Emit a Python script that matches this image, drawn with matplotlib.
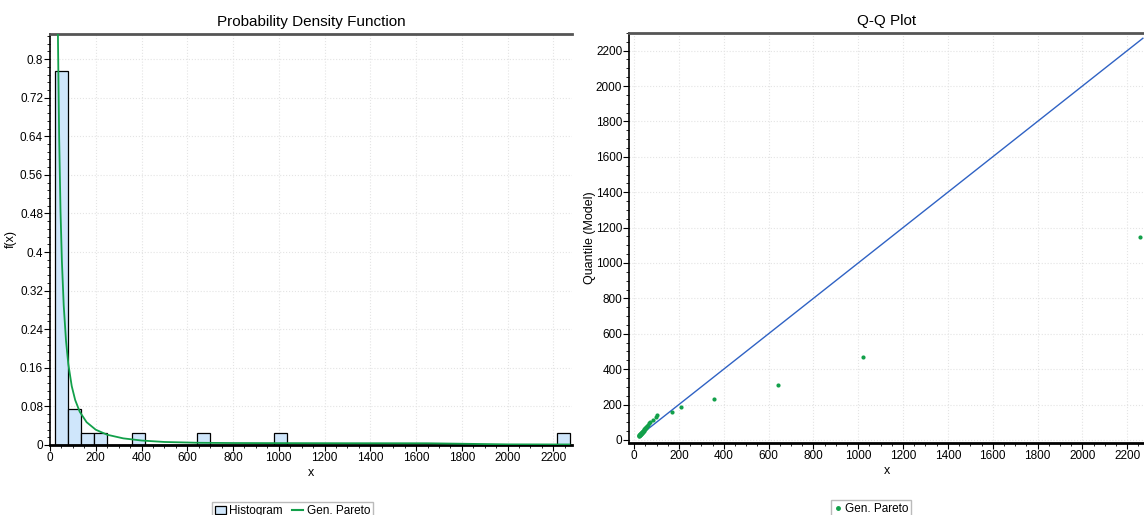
import numpy as np
import matplotlib
matplotlib.use("Agg")
import matplotlib.pyplot as plt
from matplotlib.ticker import MultipleLocator, AutoMinorLocator, FormatStrFormatter
from matplotlib.patches import Patch
from matplotlib.lines import Line2D

plt.rcParams['font.family'] = ['Liberation Sans Narrow', 'Liberation Sans', 'DejaVu Sans']

# histogram (relative frequency per bin)
bin_start = 23.0
bin_width = 56.2
hist_freq = [0.775, 0.075, 0.025, 0.025, 0, 0, 0.025, 0, 0, 0,
             0, 0.025, 0, 0, 0, 0, 0, 0.025, 0, 0,
             0, 0, 0, 0, 0, 0, 0, 0, 0, 0,
             0, 0, 0, 0, 0, 0, 0, 0, 0, 0.025]

# fitted Gen. Pareto curve
pdf_x = [22, 25, 28, 31, 35, 40, 46, 52, 60, 70, 80, 95, 110, 130, 160,
         200, 250, 320, 400, 500, 650, 800, 1000, 1300, 1650, 2000, 2270]
pdf_y = [2.26, 1.70, 1.33, 1.07, 0.835, 0.638, 0.484, 0.381, 0.289, 0.216,
         0.168, 0.122, 0.0933, 0.0688, 0.0472, 0.0316, 0.0212, 0.0137,
         0.0092, 0.0062, 0.0045, 0.0040, 0.0038, 0.0036, 0.0035, 0.0012, 0.0010]

# Q-Q plot: observed x vs model quantile
qq_x = [20, 21, 22, 23, 24, 25, 26, 27, 28, 29, 30, 31, 32, 33, 34, 35, 36,
        38, 39, 40, 42, 43, 45, 47, 49, 51, 54, 57, 61, 65, 70,
        86, 99, 101, 168, 209, 358, 640, 1020, 2258]
qq_y = [22, 24, 25, 27, 28, 29, 30, 32, 33, 34, 35, 37, 38, 40, 41, 43, 45,
        47, 49, 51, 53, 56, 59, 62, 66, 70, 75, 80, 86, 93, 101,
        110, 128, 140, 160, 188, 233, 309, 469, 1147]
qq_line = [20, 2270]

green = '#12a04a'
blue = '#2f62c4'
barfill = '#cfe6fb'

fig = plt.figure(figsize=(11.44, 5.15), dpi=100)
ax1 = fig.add_axes([0.0437, 0.136, 0.456, 0.798])
ax2 = fig.add_axes([0.550, 0.140, 0.450, 0.796])


def style(ax):
    ax.grid(True, which='major', color='#e4e4e4', linestyle=':', linewidth=0.8)
    ax.set_axisbelow(True)
    ax.spines['right'].set_visible(False)
    ax.spines['top'].set_color('#555555')
    ax.spines['top'].set_linewidth(2)
    ax.spines['left'].set_linewidth(1.2)
    ax.spines['bottom'].set_linewidth(2)
    ax.tick_params(which='major', direction='out', length=4, width=0.8, labelsize=8.5, pad=1)
    ax.tick_params(which='minor', direction='out', length=2, width=0.6)
    ax.tick_params(top=False, right=False)


# ---- PDF ----
edges = bin_start + bin_width * np.arange(len(hist_freq))
ax1.bar(edges, hist_freq, width=bin_width, align='edge', color=barfill,
        edgecolor='black', linewidth=0.9, zorder=2)
ax1.plot(pdf_x, pdf_y, color=green, linewidth=1.3, zorder=3)
ax1.set_xlim(0, 2280)
ax1.set_ylim(0, 0.852)
ax1.xaxis.set_major_locator(MultipleLocator(200))
ax1.xaxis.set_minor_locator(AutoMinorLocator(4))
ax1.yaxis.set_major_locator(MultipleLocator(0.08))
ax1.yaxis.set_minor_locator(AutoMinorLocator(5))
ax1.yaxis.set_major_formatter(FormatStrFormatter('%g'))
style(ax1)
ax1.set_title('Probability Density Function', fontsize=11, pad=6)
ax1.set_xlabel('x', fontsize=9, labelpad=2)
ax1.set_ylabel('f(x)', fontsize=9, labelpad=2)
h1 = [Patch(facecolor=barfill, edgecolor='black', linewidth=0.9, label='Histogram'),
      Line2D([], [], color=green, linewidth=1.5, label='Gen. Pareto')]
ax1.legend(handles=h1, loc='upper center', bbox_to_anchor=(0.465, -0.125), ncol=2,
           fontsize=8.5, frameon=True, fancybox=False, edgecolor='#aaaaaa',
           handlelength=0.9, handletextpad=0.3, columnspacing=0.8, borderpad=0.25)

# ---- Q-Q ----
ax2.plot(qq_line, qq_line, color=blue, linewidth=1.0, zorder=2)
ax2.scatter(qq_x, qq_y, s=9, color=green, marker='o', linewidths=0, zorder=3)
ax2.set_xlim(-22, 2275)
ax2.set_ylim(-17, 2300)
ax2.xaxis.set_major_locator(MultipleLocator(200))
ax2.xaxis.set_minor_locator(AutoMinorLocator(4))
ax2.yaxis.set_major_locator(MultipleLocator(200))
ax2.yaxis.set_minor_locator(AutoMinorLocator(4))
style(ax2)
ax2.set_title('Q-Q Plot', fontsize=11, pad=6)
ax2.set_xlabel('x', fontsize=9, labelpad=2)
ax2.set_ylabel('Quantile (Model)', fontsize=9, labelpad=0)
h2 = [Line2D([], [], color=green, marker='o', markersize=2.5, linestyle='none',
             label='Gen. Pareto')]
ax2.legend(handles=h2, loc='upper center', bbox_to_anchor=(0.47, -0.125),
           fontsize=8.5, frameon=True, fancybox=False, edgecolor='#aaaaaa',
           handlelength=0.6, handletextpad=0.3, borderpad=0.25)

fig.savefig('out.png', dpi=100)
